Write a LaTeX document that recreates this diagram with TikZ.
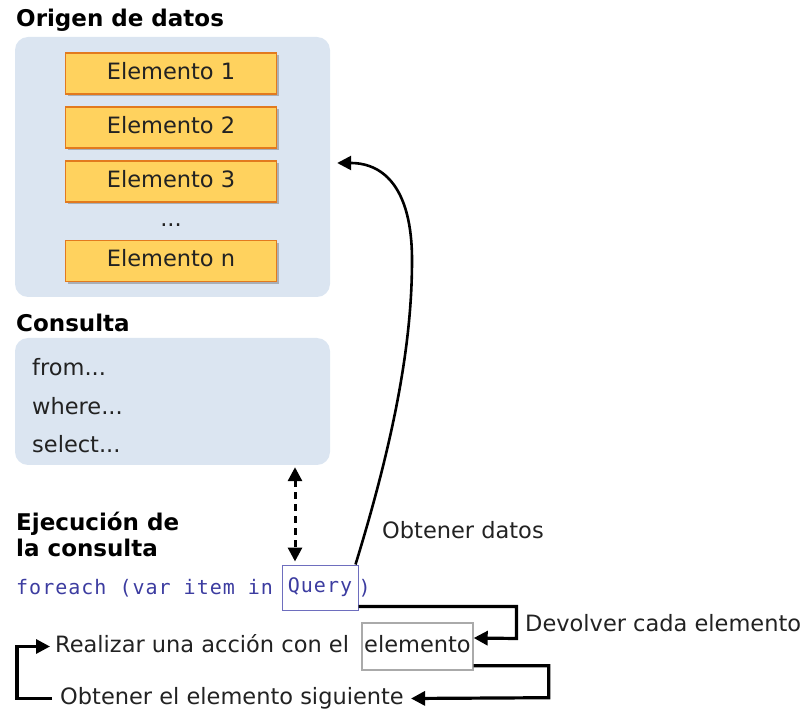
\documentclass[tikz,border=0pt]{standalone}
\usepackage{fontspec}
\setmainfont{DejaVu Sans}
\newfontfamily\codefont[LetterSpace=5]{DejaVu Sans Mono}
\usetikzlibrary{arrows.meta,shadows}

\definecolor{panelblue}{RGB}{219,229,241}
\definecolor{itemfill}{RGB}{255,210,94}
\definecolor{itemedge}{RGB}{226,122,30}
\definecolor{codeblue}{RGB}{60,60,160}
\definecolor{qedge}{RGB}{110,110,190}
\definecolor{eledge}{RGB}{170,170,170}
\definecolor{ink}{RGB}{34,34,34}

\tikzset{
  panel/.style={fill=panelblue, rounded corners=13pt, inner sep=0pt},
  item/.style={draw=itemedge, line width=1.6pt, fill=itemfill,
    minimum width=211pt, minimum height=41pt, inner sep=0pt,
    text height=16pt, text depth=4pt,
    font=\fontsize{22.5}{26}\selectfont, text=ink,
    drop shadow={shadow xshift=2.5pt, shadow yshift=-2.5pt, opacity=0.35, fill=black!70}},
  txt/.style={inner sep=0pt, text height=16pt, text depth=5pt,
    font=\fontsize{22.5}{26}\selectfont, text=ink},
  head/.style={inner sep=0pt, anchor=base west,
    font=\fontsize{23}{27}\bfseries\selectfont, text=black},
  code/.style={inner sep=0pt, text height=14pt, text depth=4pt,
    font=\codefont\fontsize{20}{24}\selectfont, text=codeblue},
  bigtip/.tip={Triangle[length=14pt,width=14pt]},
  arr/.style={line width=3.2pt, -{bigtip}, line join=miter},
  thinarr/.style={line width=2.6pt, -{bigtip}},
}

\begin{document}
\begin{tikzpicture}[x=1pt,y=-1pt]
\useasboundingbox (0,0) rectangle (804,711);

% data source
\node[head] (hsrc) at (16,27) {Origen de datos};
\node[panel, minimum width=315pt, minimum height=260pt] (src) at (172.5,167) {};
\node[item] (e1) at (171,73.5) {Elemento 1};
\node[item] (e2) at (171,127.5) {Elemento 2};
\node[item] (e3) at (171,181.5) {Elemento 3};
\node[txt, anchor=base] (dots) at (171,227) {...};
\node[item] (en) at (171,261) {Elemento n};

% query
\node[head] (hq) at (16,332) {Consulta};
\node[panel, minimum width=315pt, minimum height=127pt] (cons) at (172.5,401.5) {};
\node[txt, anchor=base west] (from) at (32,376) {from...};
\node[txt, anchor=base west] (where) at (32,415) {where...};
\node[txt, anchor=base west] (select) at (32,453) {select...};

% execution
\node[head] (hx1) at (16,530) {Ejecución de};
\node[head] (hx2) at (16,556) {la consulta};
\node[code, anchor=base west] (fe) at (16,594) {foreach (var item in};
\node[code, draw=qedge, line width=1pt, minimum width=76pt, minimum height=45pt] (q) at (320,587.5) {Query};
\node[code, anchor=base west] (close) at (358.5,594) {)};

\node[txt, anchor=base west] (real) at (55,652) {Realizar una acción con el};
\node[txt, draw=eledge, line width=1.4pt, minimum width=111pt, minimum height=47pt] (el) at (417.5,646.5) {elemento};
\node[txt, anchor=base west] (sig) at (60,704) {Obtener el elemento siguiente};

\node[txt, anchor=base west] (get) at (382,538) {Obtener datos};
\node[txt, anchor=base west] (ret) at (525,631) {Devolver cada elemento};

% connectors
\draw[line width=3pt, dash pattern=on 7pt off 5pt,
      {bigtip}-{bigtip}, shorten <=2pt, shorten >=3pt]
  ([xshift=-25pt]q.north |- cons.south) -- ([xshift=-25pt]q.north);

\draw[thinarr] ([xshift=-3pt]q.north east)
  .. controls (400,420) and (412,330) .. (412,260)
  .. controls (412,190) and (385,163) .. ([xshift=7pt,yshift=4pt]src.east);

\draw[arr] ([yshift=4pt]q.south east) -- ++(158,0) -- ++(0,32) -- ([yshift=8.5pt]el.east);
\draw[arr] ([yshift=5pt]el.south east) -- ++(75,0) -- ++(0,32) -- ([xshift=7pt]sig.east);
\draw[arr] ([xshift=-8pt]sig.west) -- ++(-35,0) |- ([xshift=-5pt]real.west);
\end{tikzpicture}
\end{document}
